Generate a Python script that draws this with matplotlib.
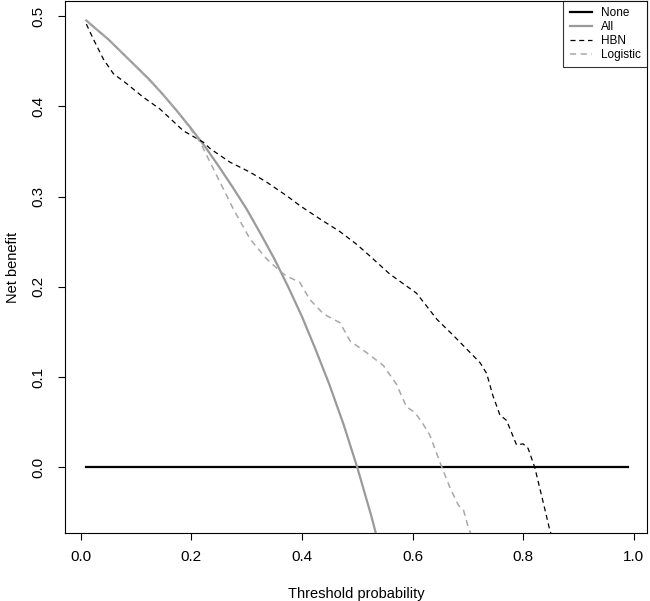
import matplotlib
matplotlib.use("Agg")
import matplotlib.pyplot as plt
import numpy as np

plt.rcParams['font.family'] = ['Liberation Sans', 'DejaVu Sans']

# threshold probability vs net benefit
none_x = [0.01, 0.99]
none_y = [0.0, 0.0]

all_x = [0.01, 0.025, 0.05, 0.075, 0.10, 0.125, 0.15, 0.175, 0.20, 0.225, 0.25,
         0.275, 0.30, 0.325, 0.35, 0.375, 0.40, 0.425, 0.45, 0.475, 0.50, 0.525, 0.55]
all_y = [0.495, 0.487, 0.474, 0.459, 0.444, 0.429, 0.412, 0.394, 0.375, 0.355, 0.333,
         0.310, 0.286, 0.259, 0.231, 0.200, 0.167, 0.130, 0.091, 0.048, 0.0, -0.053, -0.111]

hbn_x = [0.01, 0.023, 0.041, 0.059, 0.083, 0.113, 0.143, 0.173, 0.185, 0.222, 0.234,
         0.270, 0.306, 0.336, 0.372, 0.396, 0.433, 0.469, 0.499, 0.523, 0.559, 0.607,
         0.625, 0.644, 0.674, 0.698, 0.722, 0.734, 0.745, 0.758, 0.770, 0.788, 0.800,
         0.809, 0.821, 0.836, 0.848, 0.860]
hbn_y = [0.491, 0.474, 0.452, 0.436, 0.425, 0.410, 0.397, 0.380, 0.373, 0.360, 0.353,
         0.338, 0.327, 0.316, 0.301, 0.290, 0.275, 0.261, 0.247, 0.234, 0.214, 0.193,
         0.179, 0.164, 0.146, 0.131, 0.116, 0.104, 0.080, 0.058, 0.052, 0.025, 0.026,
         0.021, 0.0, -0.038, -0.069, -0.090]

log_x = [0.01, 0.05, 0.10, 0.15, 0.185, 0.216, 0.246, 0.276, 0.306, 0.336, 0.361,
         0.372, 0.396, 0.414, 0.439, 0.469, 0.487, 0.517, 0.547, 0.571, 0.589, 0.604,
         0.619, 0.631, 0.653, 0.668, 0.683, 0.692, 0.701, 0.710]
log_y = [0.495, 0.474, 0.444, 0.412, 0.386, 0.360, 0.323, 0.286, 0.253, 0.231, 0.217,
         0.212, 0.205, 0.186, 0.170, 0.160, 0.140, 0.127, 0.113, 0.092, 0.067, 0.061,
         0.048, 0.036, 0.0, -0.023, -0.042, -0.047, -0.067, -0.080]

x_ticks = [0.0, 0.2, 0.4, 0.6, 0.8, 1.0]
y_ticks = [0.0, 0.1, 0.2, 0.3, 0.4, 0.5]

fig = plt.figure(figsize=(6.5, 6.01), dpi=100)
ax = fig.add_axes([65 / 650, 1 - 533 / 601, 582 / 650, 532 / 601])

ax.plot(none_x, none_y, color='black', lw=1.6, label='None')
ax.plot(all_x, all_y, color='#9a9a9a', lw=1.6, label='All')
ax.plot(hbn_x, hbn_y, color='black', lw=0.9, ls=(0, (4, 3)), label='HBN')
ax.plot(log_x, log_y, color='#a8a8a8', lw=1.1, ls=(0, (4, 3)), label='Logistic')

ax.set_xlim(-0.0286, 1.024)
ax.set_ylim(-0.0727, 0.5166)
ax.set_xticks(x_ticks)
ax.set_yticks(y_ticks)
ax.set_xticklabels([f"{v:.1f}" for v in x_ticks])
ax.set_yticklabels([f"{v:.1f}" for v in y_ticks], rotation=90, va='center')
ax.tick_params(direction='out', length=5, width=0.8, labelsize=11, pad=7)
ax.tick_params(axis='y', pad=9)
for s in ax.spines.values():
    s.set_linewidth(0.8)

ax.set_xlabel("Threshold probability", fontsize=10.5, labelpad=17)
ax.set_ylabel("Net benefit", fontsize=10.5, labelpad=8)

leg = ax.legend(loc='upper right', fontsize=8.5, frameon=True, fancybox=False,
                edgecolor='black', borderaxespad=0, handlelength=1.9,
                handletextpad=0.7, labelspacing=0.15, borderpad=0.55)
leg.get_frame().set_linewidth(0.8)

fig.savefig("out.png", dpi=100)
